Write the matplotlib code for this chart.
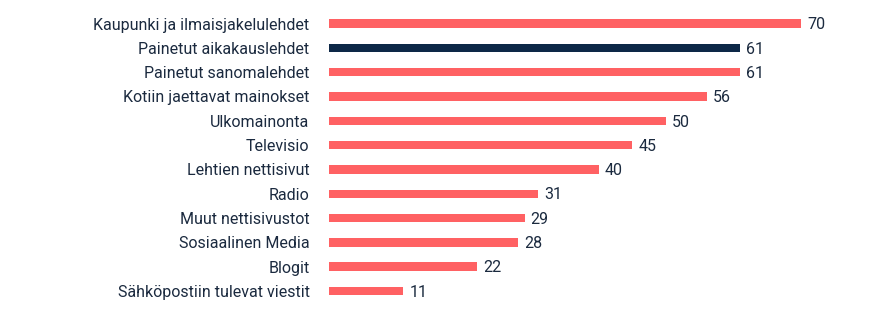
import matplotlib
matplotlib.use("Agg")
import matplotlib.pyplot as plt

categories = [
    "Kaupunki ja ilmaisjakelulehdet",
    "Painetut aikakauslehdet",
    "Painetut sanomalehdet",
    "Kotiin jaettavat mainokset",
    "Ulkomainonta",
    "Televisio",
    "Lehtien nettisivut",
    "Radio",
    "Muut nettisivustot",
    "Sosiaalinen Media",
    "Blogit",
    "Sähköpostiin tulevat viestit",
]
values = [70, 61, 61, 56, 50, 45, 40, 31, 29, 28, 22, 11]
highlight = "Painetut aikakauslehdet"

red = "#ff6163"
navy = "#0d2847"
text_col = "#1b2a3f"

plt.rcParams['font.family'] = ['Roboto', 'DejaVu Sans']

fig = plt.figure(figsize=(8.75, 3.28), dpi=100)
ax = fig.add_axes([329 / 875, 1 - 303.2 / 328, 472 / 875, (303.2 - 11.35) / 328])

colors = [navy if c == highlight else red for c in categories]
y = list(range(len(categories)))
ax.barh(y, values, height=0.35, color=colors)
for yi, v in zip(y, values):
    ax.text(v + 0.9, yi + 0.05, str(v), va="center", ha="left", fontsize=11.5, color=text_col)

ax.set_xlim(0, 70)
ax.set_ylim(len(categories) - 0.5, -0.5)
ax.set_yticks(y)
ax.set_yticklabels(categories, fontsize=11.5, color=text_col)
ax.tick_params(axis="y", length=0, pad=14)
ax.set_xticks([])
for s in ax.spines.values():
    s.set_visible(False)

fig.savefig("out.png", dpi=100)
